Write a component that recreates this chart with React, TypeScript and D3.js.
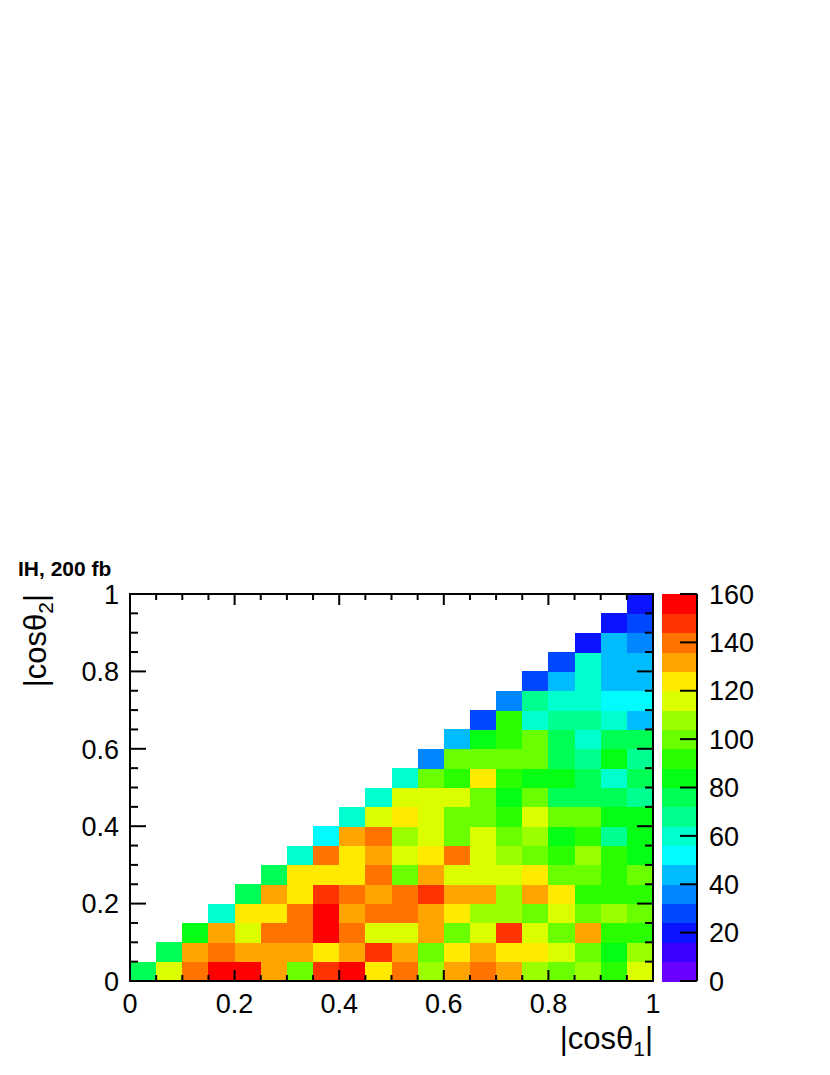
import React from 'react';
import * as d3 from 'd3';

// 20 x 20 bins in |cos theta1| (x) and |cos theta2| (y); only the upper triangle ix >= iy is filled
// counts[iy] holds the values for ix = iy .. 19
const counts: number[][] = [
  [76, 116, 140, 156, 156, 132, 100, 148, 156, 124, 140, 108, 132, 140, 132, 108, 100, 108, 92, 116],
  [76, 132, 140, 132, 132, 132, 124, 132, 148, 132, 100, 124, 132, 124, 124, 116, 100, 84, 108],
  [84, 132, 116, 140, 140, 156, 140, 116, 116, 132, 100, 116, 148, 116, 100, 132, 92, 92],
  [60, 124, 124, 140, 156, 132, 140, 140, 132, 124, 108, 108, 100, 116, 100, 108, 100],
  [76, 132, 124, 148, 140, 132, 140, 148, 132, 132, 108, 132, 124, 92, 92, 92],
  [76, 124, 124, 124, 140, 100, 132, 116, 116, 116, 124, 100, 100, 92, 100],
  [60, 140, 124, 132, 116, 124, 140, 116, 108, 100, 92, 108, 92, 84],
  [52, 132, 140, 108, 116, 100, 116, 100, 108, 84, 92, 68, 84],
  [60, 116, 124, 116, 100, 100, 92, 116, 100, 100, 84, 84],
  [60, 116, 116, 116, 100, 84, 100, 76, 76, 76, 68],
  [60, 100, 92, 124, 92, 84, 84, 76, 60, 76],
  [36, 100, 100, 100, 100, 76, 68, 84, 68],
  [44, 84, 92, 100, 76, 60, 76, 76],
  [28, 92, 60, 68, 68, 60, 44],
  [36, 68, 60, 60, 52, 52],
  [28, 44, 60, 44, 44],
  [28, 60, 44, 44],
  [20, 44, 36],
  [20, 28],
  [20],
];

const nBins = 20;
const zMax = 160;
const palette = [
  '#6a00ff', '#3a00ff', '#0a14ff', '#0048ff', '#0087ff', '#00bcff', '#00fcff', '#00ffcf', '#00ff91', '#00ff55',
  '#05ff14', '#2aff00', '#69ff00', '#9cff00', '#dcff00', '#ffea00', '#ffa400', '#ff7400', '#ff3300', '#ff0000',
];
const axisTicks = [0, 0.2, 0.4, 0.6, 0.8, 1];
const axisTickLabels = ['0', '0.2', '0.4', '0.6', '0.8', '1'];
const zTicks = [0, 20, 40, 60, 80, 100, 120, 140, 160];

const font = '"Liberation Sans", Arial, Helvetica, sans-serif';

export default function App() {
  const x = d3.scaleLinear().domain([0, 1]).range([130, 653]);
  const y = d3.scaleLinear().domain([0, 1]).range([981, 594]);
  const color = d3.scaleQuantize<string>().domain([0, zMax]).range(palette);
  const z = d3.scaleLinear().domain([0, zMax]).range([981, 594]);
  const barX0 = 662;
  const barX1 = 697;

  const cells: { ix: number; iy: number; v: number }[] = [];
  counts.forEach((row, iy) => row.forEach((v, k) => cells.push({ ix: iy + k, iy, v })));

  const binW = 1 / nBins;
  const minor = d3.range(0, nBins + 1).map(i => i * binW);

  return (
    <svg width={830} height={1075} style={{ position: 'absolute', left: 0, top: 0, background: '#fff' }}>
      <rect width={830} height={1075} fill="#fff" />
      {/* bins */}
      <g shapeRendering="crispEdges">
        {cells.map(c => (
          <rect
            key={c.ix + '-' + c.iy}
            x={x(c.ix * binW)}
            y={y((c.iy + 1) * binW)}
            width={x((c.ix + 1) * binW) - x(c.ix * binW) + 0.5}
            height={y(c.iy * binW) - y((c.iy + 1) * binW) + 0.5}
            fill={color(c.v)}
          />
        ))}
      </g>

      {/* frame and ticks */}
      <g stroke="#000" strokeWidth={2} fill="none">
        <rect x={x(0)} y={y(1)} width={x(1) - x(0)} height={y(0) - y(1)} />
        {minor.map((t, i) => {
          const major = i % 4 === 0;
          const lx = major ? 11 : 6;
          const ly = major ? 16 : 8;
          return (
            <g key={i}>
              <line x1={x(t)} x2={x(t)} y1={y(0)} y2={y(0) - lx} />
              <line x1={x(t)} x2={x(t)} y1={y(1)} y2={y(1) + lx} />
              <line x1={x(0)} x2={x(0) + ly} y1={y(t)} y2={y(t)} />
              <line x1={x(1)} x2={x(1) - ly} y1={y(t)} y2={y(t)} />
            </g>
          );
        })}
      </g>

      {/* axis labels */}
      <g fontFamily={font} fontSize={27} fill="#000">
        {axisTicks.map((t, i) => (
          <text key={'x' + i} x={x(t)} y={1013} textAnchor="middle">{axisTickLabels[i]}</text>
        ))}
        {axisTicks.map((t, i) => (
          <text key={'y' + i} x={119} y={y(t)} dy="0.36em" textAnchor="end">{axisTickLabels[i]}</text>
        ))}
      </g>

      {/* axis titles */}
      <text x={653} y={1049} textAnchor="end" fontFamily={font} fontSize={31}>
        |cosθ<tspan fontSize={21} dy={7}>1</tspan><tspan dy={-7}>|</tspan>
      </text>
      <text transform="translate(46,594) rotate(-90)" textAnchor="end" fontFamily={font} fontSize={31}>
        |cosθ<tspan fontSize={21} dy={7}>2</tspan><tspan dy={-7}>|</tspan>
      </text>

      {/* colour palette */}
      <g shapeRendering="crispEdges">
        {palette.map((c, i) => {
          const lo = (i * zMax) / palette.length;
          const hi = ((i + 1) * zMax) / palette.length;
          return <rect key={i} x={barX0} y={z(hi)} width={barX1 - barX0} height={z(lo) - z(hi) + 0.5} fill={c} />;
        })}
      </g>
      <g stroke="#000" strokeWidth={2}>
        <line x1={barX1} x2={barX1} y1={z(0)} y2={z(zMax)} />
        {zTicks.map(t => (
          <line key={t} x1={barX1} x2={barX1 - 17} y1={z(t)} y2={z(t)} />
        ))}
      </g>
      <g fontFamily={font} fontSize={27} fill="#000">
        {zTicks.map(t => (
          <text key={t} x={709} y={z(t)} dy="0.36em">{t}</text>
        ))}
      </g>

      {/* title */}
      <text x={18} y={576} fontFamily={font} fontSize={21} fontWeight="bold">IH, 200 fb</text>
    </svg>
  );
}
